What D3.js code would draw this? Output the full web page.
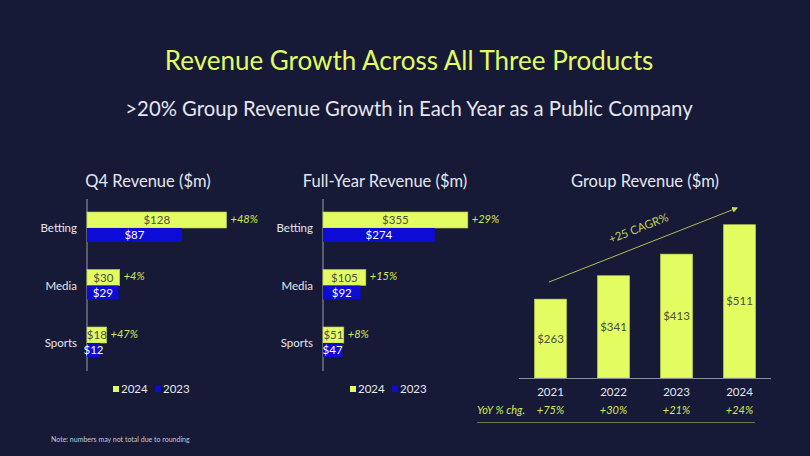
<!DOCTYPE html>
<html><head><meta charset="utf-8">
<script src="https://cdn.jsdelivr.net/npm/d3@7"></script>
<style>
html,body{margin:0;padding:0;background:#161a36;}
svg{display:block;}
text{font-family:Lato,"Open Sans",sans-serif;}
</style></head>
<body><svg id="c" width="810" height="456"></svg>
<script>
const categories = ["Betting","Media","Sports"];
const q4_2024 = [128,30,18];
const q4_2023 = [87,29,12];
const q4_yoy = ["+48%","+4%","+47%"];
const fy_2024 = [355,105,51];
const fy_2023 = [274,92,47];
const fy_yoy = ["+29%","+15%","+8%"];
const years = ["2021","2022","2023","2024"];
const groupRevenue = [263,341,413,511];
const groupYoy = ["+75%","+30%","+21%","+24%"];
const seriesNames = ["2024","2023"];

const BG="#161a36", LIME="#e2fc62", BLUE="#0c0cd6", TXT="#e6e6ee", DARK="#4b4f3c", ITAL="#d4ea5a";
const svg=d3.select("#c");
svg.append("rect").attr("width",810).attr("height",456).attr("fill",BG);

svg.append("text").attr("x",409).attr("y",70).attr("text-anchor","middle")
  .attr("fill",LIME).attr("font-size",26).text("Revenue Growth Across All Three Products");
svg.append("text").attr("x",409).attr("y",116).attr("text-anchor","middle")
  .attr("fill",TXT).attr("font-size",20.3).text(">20% Group Revenue Growth in Each Year as a Public Company");
svg.append("text").attr("x",51).attr("y",442).attr("fill","#c8c8d4").attr("font-size",7).text("Note: numbers may not total due to rounding");

function hbar(cfg){
  const g=svg.append("g");
  const x=d3.scaleLinear().domain([0,cfg.max]).range([cfg.x0,cfg.x0+cfg.max*cfg.k]);
  const y=d3.scalePoint().domain(categories).range([228,343]);
  g.append("text").attr("x",cfg.tx).attr("y",187).attr("text-anchor","middle").attr("fill",TXT).attr("font-size",16.5).text(cfg.title);
  g.append("line").attr("x1",cfg.x0).attr("x2",cfg.x0).attr("y1",199).attr("y2",371).attr("stroke","#9a9cac").attr("stroke-width",1);
  categories.forEach((c,i)=>{
    const cy=y(c);
    g.append("text").attr("x",cfg.x0-10).attr("y",cy).attr("dy","0.35em").attr("text-anchor","end").attr("fill",TXT).attr("font-size",11.5).text(c);
    const w1=x(cfg.a[i])-cfg.x0, w2=x(cfg.b[i])-cfg.x0;
    g.append("rect").attr("x",cfg.x0).attr("y",cy-16).attr("width",w1).attr("height",16).attr("fill",LIME).attr("stroke","#b9cc4a").attr("stroke-width",0.6);
    g.append("rect").attr("x",cfg.x0).attr("y",cy).attr("width",w2).attr("height",14).attr("fill",BLUE);
    g.append("text").attr("x",cfg.x0+w1/2).attr("y",cy-8).attr("dy","0.35em").attr("text-anchor","middle").attr("fill",DARK).attr("font-size",11.5).text("$"+cfg.a[i]);
    g.append("text").attr("x",cfg.x0+w2/2).attr("y",cy+7).attr("dy","0.35em").attr("text-anchor","middle").attr("fill","#ffffff").attr("font-size",11.5).text("$"+cfg.b[i]);
    g.append("text").attr("x",cfg.x0+w1+4).attr("y",cy-9).attr("dy","0.35em").attr("fill",ITAL).attr("font-size",11).attr("font-style","italic").text(cfg.yoy[i]);
  });
  const leg=[{c:LIME,t:seriesNames[0],x:cfg.lx},{c:BLUE,t:seriesNames[1],x:cfg.lx+cfg.lgap}];
  leg.forEach(l=>{
    g.append("rect").attr("x",l.x).attr("y",386).attr("width",6).attr("height",6).attr("fill",l.c);
    g.append("text").attr("x",l.x+8).attr("y",389).attr("dy","0.35em").attr("fill",TXT).attr("font-size",11.5).text(l.t);
  });
}
hbar({x0:87,k:1.09,max:130,title:"Q4 Revenue ($m)",tx:148,a:q4_2024,b:q4_2023,yoy:q4_yoy,lx:113,lgap:42});
hbar({x0:323,k:0.408,max:360,title:"Full-Year Revenue ($m)",tx:385,a:fy_2024,b:fy_2023,yoy:fy_yoy,lx:350,lgap:42});

// Group revenue
const gg=svg.append("g");
const xb=d3.scaleBand().domain(years).range([519,771]).paddingInner(0.49).paddingOuter(0.245);
const yv=d3.scaleLinear().domain([0,600]).range([378,198]);
gg.append("text").attr("x",645).attr("y",187).attr("text-anchor","middle").attr("fill",TXT).attr("font-size",16.5).text("Group Revenue ($m)");
years.forEach((yr,i)=>{
  const bx=xb(yr), bw=xb.bandwidth(), top=yv(groupRevenue[i]);
  gg.append("rect").attr("x",bx).attr("y",top).attr("width",bw).attr("height",yv(0)-top).attr("fill",LIME).attr("stroke","#b9cc4a").attr("stroke-width",0.6);
  gg.append("text").attr("x",bx+bw/2).attr("y",(top+yv(0))/2).attr("dy","0.35em").attr("text-anchor","middle").attr("fill",DARK).attr("font-size",11.5).text("$"+groupRevenue[i]);
  gg.append("text").attr("x",bx+bw/2).attr("y",392).attr("dy","0.35em").attr("text-anchor","middle").attr("fill",TXT).attr("font-size",11.5).text(yr);
  gg.append("text").attr("x",bx+bw/2).attr("y",410).attr("dy","0.35em").attr("text-anchor","middle").attr("fill",ITAL).attr("font-size",11).attr("font-style","italic").text(groupYoy[i]);
});
gg.append("line").attr("x1",519).attr("x2",771).attr("y1",378.5).attr("y2",378.5).attr("stroke","#8a8fa0").attr("stroke-width",1.2);
gg.append("text").attr("x",477).attr("y",410).attr("dy","0.35em").attr("fill",ITAL).attr("font-size",11).attr("font-style","italic").text("YoY % chg.");
gg.append("line").attr("x1",477).attr("x2",755).attr("y1",422.5).attr("y2",422.5).attr("stroke","#6f7a45").attr("stroke-width",1.2);

// CAGR arrow
svg.append("defs").append("marker").attr("id","ah").attr("viewBox","0 0 10 10").attr("refX",8).attr("refY",5)
  .attr("markerWidth",6).attr("markerHeight",6).attr("orient","auto")
  .append("path").attr("d","M0,0L10,5L0,10Z").attr("fill","#c4d65a");
gg.append("line").attr("x1",549).attr("y1",282).attr("x2",737).attr("y2",208).attr("stroke","#aebd55").attr("stroke-width",1).attr("marker-end","url(#ah)");
gg.append("text").attr("transform","translate(640,232) rotate(-21.5)").attr("text-anchor","middle").attr("fill","#c0d25a").attr("font-size",11.5).text("+25 CAGR%");
</script></body></html>
